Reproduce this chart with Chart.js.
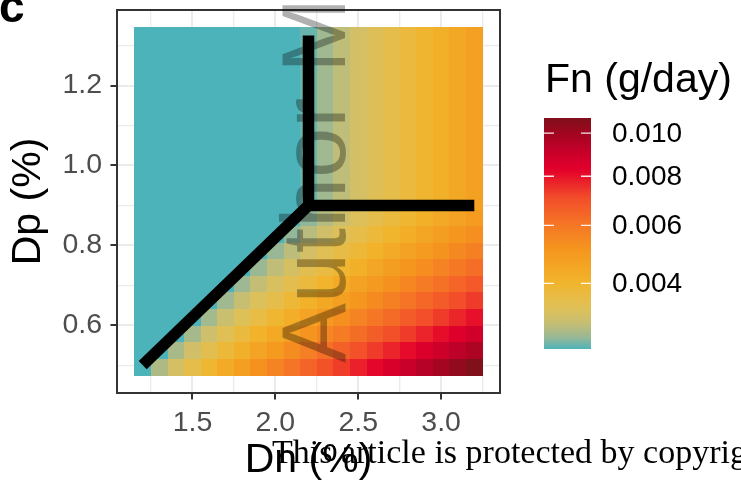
<!DOCTYPE html>
<html>
<head>
<meta charset="utf-8">
<script src="https://cdn.jsdelivr.net/npm/chart.js@4.4.0/dist/chart.umd.min.js"></script>
<style>
  html, body { margin: 0; padding: 0; background: #fff; }
  canvas { display: block; }
</style>
</head>
<body>
<canvas id="fn-chart" width="741" height="480"></canvas>
<script>
// tile centres
var dnValues = [1.2, 1.3, 1.4, 1.5, 1.6, 1.7, 1.8, 1.9, 2.0, 2.1, 2.2, 2.3, 2.4, 2.5, 2.6, 2.7, 2.8, 2.9, 3.0, 3.1, 3.2];
var dpValues = [0.495, 0.537, 0.578, 0.620, 0.661, 0.703, 0.744, 0.786, 0.827, 0.869, 0.910,
  0.952, 0.993, 1.035, 1.076, 1.118, 1.159, 1.201, 1.242, 1.284, 1.325];

// Fn (g/day), one row per Dp value, bottom row first, one value per Dn value
var fnRows = [
  [0.00223, 0.00266, 0.00308, 0.00351, 0.00393, 0.00436, 0.00479, 0.00521, 0.00564, 0.00606, 0.00649, 0.00692, 0.00734, 0.00777, 0.00819, 0.00862, 0.00905, 0.00947, 0.00990, 0.01032, 0.01075],
  [0.00223, 0.00223, 0.00263, 0.00302, 0.00341, 0.00381, 0.00420, 0.00459, 0.00499, 0.00538, 0.00577, 0.00617, 0.00656, 0.00695, 0.00735, 0.00774, 0.00813, 0.00853, 0.00892, 0.00931, 0.00971],
  [0.00223, 0.00223, 0.00223, 0.00260, 0.00296, 0.00333, 0.00370, 0.00406, 0.00443, 0.00479, 0.00516, 0.00552, 0.00589, 0.00625, 0.00662, 0.00698, 0.00735, 0.00772, 0.00808, 0.00845, 0.00881],
  [0.00223, 0.00223, 0.00223, 0.00223, 0.00258, 0.00292, 0.00326, 0.00360, 0.00394, 0.00428, 0.00462, 0.00496, 0.00530, 0.00565, 0.00599, 0.00633, 0.00667, 0.00701, 0.00735, 0.00769, 0.00803],
  [0.00223, 0.00223, 0.00223, 0.00223, 0.00223, 0.00256, 0.00287, 0.00319, 0.00351, 0.00383, 0.00415, 0.00447, 0.00479, 0.00511, 0.00543, 0.00575, 0.00607, 0.00639, 0.00671, 0.00703, 0.00735],
  [0.00223, 0.00223, 0.00223, 0.00223, 0.00223, 0.00223, 0.00254, 0.00284, 0.00314, 0.00344, 0.00374, 0.00404, 0.00434, 0.00465, 0.00495, 0.00525, 0.00555, 0.00585, 0.00615, 0.00645, 0.00675],
  [0.00223, 0.00223, 0.00223, 0.00223, 0.00223, 0.00223, 0.00223, 0.00252, 0.00281, 0.00309, 0.00338, 0.00366, 0.00394, 0.00423, 0.00451, 0.00480, 0.00508, 0.00537, 0.00565, 0.00593, 0.00622],
  [0.00223, 0.00223, 0.00223, 0.00223, 0.00223, 0.00223, 0.00223, 0.00223, 0.00251, 0.00278, 0.00305, 0.00331, 0.00358, 0.00385, 0.00412, 0.00439, 0.00466, 0.00493, 0.00520, 0.00547, 0.00574],
  [0.00223, 0.00223, 0.00223, 0.00223, 0.00223, 0.00223, 0.00223, 0.00223, 0.00223, 0.00249, 0.00275, 0.00301, 0.00326, 0.00352, 0.00377, 0.00403, 0.00429, 0.00454, 0.00480, 0.00505, 0.00531],
  [0.00223, 0.00223, 0.00223, 0.00223, 0.00223, 0.00223, 0.00223, 0.00223, 0.00223, 0.00223, 0.00248, 0.00273, 0.00297, 0.00321, 0.00346, 0.00370, 0.00394, 0.00419, 0.00443, 0.00468, 0.00492],
  [0.00223, 0.00223, 0.00223, 0.00223, 0.00223, 0.00223, 0.00223, 0.00223, 0.00223, 0.00223, 0.00233, 0.00256, 0.00280, 0.00304, 0.00327, 0.00351, 0.00375, 0.00398, 0.00422, 0.00446, 0.00469],
  [0.00223, 0.00223, 0.00223, 0.00223, 0.00223, 0.00223, 0.00223, 0.00223, 0.00223, 0.00223, 0.00233, 0.00256, 0.00280, 0.00304, 0.00327, 0.00351, 0.00375, 0.00398, 0.00422, 0.00446, 0.00469],
  [0.00223, 0.00223, 0.00223, 0.00223, 0.00223, 0.00223, 0.00223, 0.00223, 0.00223, 0.00223, 0.00233, 0.00256, 0.00280, 0.00304, 0.00327, 0.00351, 0.00375, 0.00398, 0.00422, 0.00446, 0.00469],
  [0.00223, 0.00223, 0.00223, 0.00223, 0.00223, 0.00223, 0.00223, 0.00223, 0.00223, 0.00223, 0.00233, 0.00256, 0.00280, 0.00304, 0.00327, 0.00351, 0.00375, 0.00398, 0.00422, 0.00446, 0.00469],
  [0.00223, 0.00223, 0.00223, 0.00223, 0.00223, 0.00223, 0.00223, 0.00223, 0.00223, 0.00223, 0.00233, 0.00256, 0.00280, 0.00304, 0.00327, 0.00351, 0.00375, 0.00398, 0.00422, 0.00446, 0.00469],
  [0.00223, 0.00223, 0.00223, 0.00223, 0.00223, 0.00223, 0.00223, 0.00223, 0.00223, 0.00223, 0.00233, 0.00256, 0.00280, 0.00304, 0.00327, 0.00351, 0.00375, 0.00398, 0.00422, 0.00446, 0.00469],
  [0.00223, 0.00223, 0.00223, 0.00223, 0.00223, 0.00223, 0.00223, 0.00223, 0.00223, 0.00223, 0.00233, 0.00256, 0.00280, 0.00304, 0.00327, 0.00351, 0.00375, 0.00398, 0.00422, 0.00446, 0.00469],
  [0.00223, 0.00223, 0.00223, 0.00223, 0.00223, 0.00223, 0.00223, 0.00223, 0.00223, 0.00223, 0.00233, 0.00256, 0.00280, 0.00304, 0.00327, 0.00351, 0.00375, 0.00398, 0.00422, 0.00446, 0.00469],
  [0.00223, 0.00223, 0.00223, 0.00223, 0.00223, 0.00223, 0.00223, 0.00223, 0.00223, 0.00223, 0.00233, 0.00256, 0.00280, 0.00304, 0.00327, 0.00351, 0.00375, 0.00398, 0.00422, 0.00446, 0.00469],
  [0.00223, 0.00223, 0.00223, 0.00223, 0.00223, 0.00223, 0.00223, 0.00223, 0.00223, 0.00223, 0.00233, 0.00256, 0.00280, 0.00304, 0.00327, 0.00351, 0.00375, 0.00398, 0.00422, 0.00446, 0.00469],
  [0.00223, 0.00223, 0.00223, 0.00223, 0.00223, 0.00223, 0.00223, 0.00223, 0.00223, 0.00223, 0.00233, 0.00256, 0.00280, 0.00304, 0.00327, 0.00351, 0.00375, 0.00398, 0.00422, 0.00446, 0.00469]
];

var xTicks = [1.5, 2.0, 2.5, 3.0];
var xMinor = [1.25, 1.75, 2.25, 2.75, 3.25];
var yTicks = [0.6, 0.8, 1.0, 1.2];
var yMinor = [0.5, 0.7, 0.9, 1.1, 1.3];
var legendTicks = [0.004, 0.006, 0.008, 0.010];

// black boundary segments
var diagonalLine = [{x: 1.2, y: 0.5}, {x: 2.2, y: 0.9}];
var verticalLine = [{x: 2.2, y: 0.9}, {x: 2.2, y: 1.325}];
var horizontalLine = [{x: 2.2, y: 0.9}, {x: 3.2, y: 0.9}];

(function () {
  var FONT = '"Liberation Sans", Arial, sans-serif';
  var stops = [
    [0, '#4DB3BA'], [0.053, '#9BB894'], [0.113, '#C7BE72'], [0.169, '#DDC05A'],
    [0.227, '#E8BC45'], [0.295, '#F2B32A'], [0.429, '#F5961E'], [0.542, '#F57526'],
    [0.66, '#F24A2A'], [0.776, '#E4002B'], [0.863, '#C3002A'], [0.935, '#A00620'], [1, '#801019']
  ];

  var all = [].concat.apply([], fnRows);
  var fnMin = Math.min.apply(null, all);
  var fnMax = Math.max.apply(null, all);
  var sMin = Math.sqrt(fnMin), sMax = Math.sqrt(fnMax);

  function hex(h) {
    return [parseInt(h.substr(1, 2), 16), parseInt(h.substr(3, 2), 16), parseInt(h.substr(5, 2), 16)];
  }
  function colorAt(t) {
    t = Math.max(0, Math.min(1, t));
    for (var i = 1; i < stops.length; i++) {
      if (t <= stops[i][0]) {
        var a = hex(stops[i - 1][1]), b = hex(stops[i][1]);
        var f = (t - stops[i - 1][0]) / (stops[i][0] - stops[i - 1][0]);
        return 'rgb(' + Math.round(a[0] + (b[0] - a[0]) * f) + ',' +
          Math.round(a[1] + (b[1] - a[1]) * f) + ',' + Math.round(a[2] + (b[2] - a[2]) * f) + ')';
      }
    }
    return stops[stops.length - 1][1];
  }
  // sqrt transformed colour scale
  function fnT(v) { return (Math.sqrt(v) - sMin) / (sMax - sMin); }

  // tile edges, shared between neighbours so no seams
  function edges(vals) {
    var n = vals.length, out = [];
    out.push(vals[0] - (vals[1] - vals[0]) / 2);
    for (var i = 1; i < n; i++) out.push((vals[i - 1] + vals[i]) / 2);
    out.push(vals[n - 1] + (vals[n - 1] - vals[n - 2]) / 2);
    return out;
  }
  var dnEdges = edges(dnValues), dpEdges = edges(dpValues);
  var xLo = dnEdges[0], xHi = dnEdges[dnEdges.length - 1];
  var yLo = dpEdges[0], yHi = dpEdges[dpEdges.length - 1];
  var xPad = (xHi - xLo) * 0.05, yPad = (yHi - yLo) * 0.05;

  function isIn(list, v) {
    return list.some(function (t) { return Math.abs(t - v) < 1e-6; });
  }
  function noPad(s) {
    s.paddingTop = 0; s.paddingBottom = 0; s.paddingLeft = 0; s.paddingRight = 0;
  }

  var tilesPlugin = {
    id: 'tiles',
    beforeDatasetsDraw: function (chart) {
      var ctx = chart.ctx, xs = chart.scales.x, ys = chart.scales.y;
      ctx.save();
      fnRows.forEach(function (row, i) {
        var y0 = Math.round(ys.getPixelForValue(dpEdges[i]));
        var y1 = Math.round(ys.getPixelForValue(dpEdges[i + 1]));
        row.forEach(function (v, j) {
          var x0 = Math.round(xs.getPixelForValue(dnEdges[j]));
          var x1 = Math.round(xs.getPixelForValue(dnEdges[j + 1]));
          ctx.fillStyle = colorAt(fnT(v));
          ctx.fillRect(x0, y1, x1 - x0, y0 - y1);
        });
      });
      ctx.restore();
    },
    afterDraw: function (chart) {
      var ctx = chart.ctx, a = chart.chartArea;
      ctx.save();
      // panel border
      ctx.strokeStyle = '#333333';
      ctx.lineWidth = 2;
      ctx.strokeRect(a.left, a.top, a.right - a.left, a.bottom - a.top);

      // colourbar
      var bl = 544, br = 591, bt = 118, bb = 349;
      var grad = ctx.createLinearGradient(0, bb, 0, bt);
      for (var k = 0; k <= 60; k++) grad.addColorStop(k / 60, colorAt(k / 60));
      ctx.fillStyle = grad;
      ctx.fillRect(bl, bt, br - bl, bb - bt);
      ctx.strokeStyle = 'rgba(255,255,255,0.9)';
      ctx.lineWidth = 1.3;
      ctx.fillStyle = '#000';
      ctx.font = '28px ' + FONT;
      ctx.textBaseline = 'middle';
      ctx.textAlign = 'left';
      legendTicks.forEach(function (v) {
        var y = bb - fnT(v) * (bb - bt);
        ctx.beginPath();
        ctx.moveTo(bl, y); ctx.lineTo(bl + 10, y);
        ctx.moveTo(br - 10, y); ctx.lineTo(br, y);
        ctx.stroke();
        ctx.fillText(v.toFixed(3), 612, y + 1);
      });
      ctx.textBaseline = 'alphabetic';
      ctx.font = '41px ' + FONT;
      ctx.fillText('Fn (g/day)', 545, 92);

      // panel tag
      ctx.font = 'bold 46px ' + FONT;
      ctx.fillText('c', -1, 22);

      // watermark
      ctx.save();
      ctx.translate(345, 363);
      ctx.rotate(-Math.PI / 2);
      ctx.font = '90px ' + FONT;
      ctx.fillStyle = 'rgba(0,0,0,0.31)';
      ctx.fillText('Author Manuscript', 0, 0);
      ctx.restore();

      ctx.fillStyle = '#000';
      ctx.font = '34px "Liberation Serif", serif';
      ctx.fillText('This article is protected by copyright. All rights reserved', 272, 463);
      ctx.restore();
    }
  };

  function lineSet(points) {
    return {
      data: points,
      showLine: true,
      borderColor: '#000',
      borderWidth: 11.5,
      borderCapStyle: 'butt',
      pointRadius: 0,
      fill: false
    };
  }

  new Chart(document.getElementById('fn-chart'), {
    type: 'scatter',
    data: {
      datasets: [lineSet(diagonalLine), lineSet(verticalLine), lineSet(horizontalLine)]
    },
    options: {
      responsive: false,
      animation: false,
      devicePixelRatio: 1,
      layout: { padding: { left: 0, top: 10, right: 241, bottom: 0 } },
      plugins: { legend: { display: false }, tooltip: { enabled: false } },
      scales: {
        x: {
          type: 'linear',
          min: xLo - xPad,
          max: xHi + xPad,
          afterBuildTicks: function (s) {
            s.ticks = xMinor.concat(xTicks).sort().map(function (v) { return { value: v }; });
          },
          afterFit: function (s) { s.height = 87; noPad(s); },
          ticks: {
            autoSkip: false, maxRotation: 0, padding: 7,
            color: '#4D4D4D', font: { family: FONT, size: 28.5 },
            callback: function (v) { return isIn(xTicks, v) ? v.toFixed(1) : ''; }
          },
          grid: {
            color: '#EBEBEB',
            lineWidth: function (c) { return isIn(xTicks, c.tick.value) ? 2 : 1.3; },
            tickLength: 6.5,
            tickWidth: 2,
            tickColor: function (c) { return isIn(xTicks, c.tick.value) ? '#333333' : 'rgba(0,0,0,0)'; }
          },
          border: { display: false },
          title: { display: true, text: 'Dn (%)', color: '#000', font: { family: FONT, size: 41, lineHeight: 0.95 }, padding: 0 }
        },
        y: {
          type: 'linear',
          min: yLo - yPad,
          max: yHi + yPad,
          afterBuildTicks: function (s) {
            s.ticks = yMinor.concat(yTicks).sort().map(function (v) { return { value: v }; });
          },
          afterFit: function (s) { s.width = 117; noPad(s); },
          ticks: {
            autoSkip: false, padding: 8.5,
            color: '#4D4D4D', font: { family: FONT, size: 28.5 },
            callback: function (v) { return isIn(yTicks, v) ? v.toFixed(1) : ''; }
          },
          grid: {
            color: '#EBEBEB',
            lineWidth: function (c) { return isIn(yTicks, c.tick.value) ? 2 : 1.3; },
            tickLength: 6.5,
            tickWidth: 2,
            tickColor: function (c) { return isIn(yTicks, c.tick.value) ? '#333333' : 'rgba(0,0,0,0)'; }
          },
          border: { display: false },
          title: { display: true, text: 'Dp (%)', color: '#000', font: { family: FONT, size: 41 }, padding: { top: 4, bottom: 0 } }
        }
      }
    },
    plugins: [tilesPlugin]
  });
}());
</script>
</body>
</html>
